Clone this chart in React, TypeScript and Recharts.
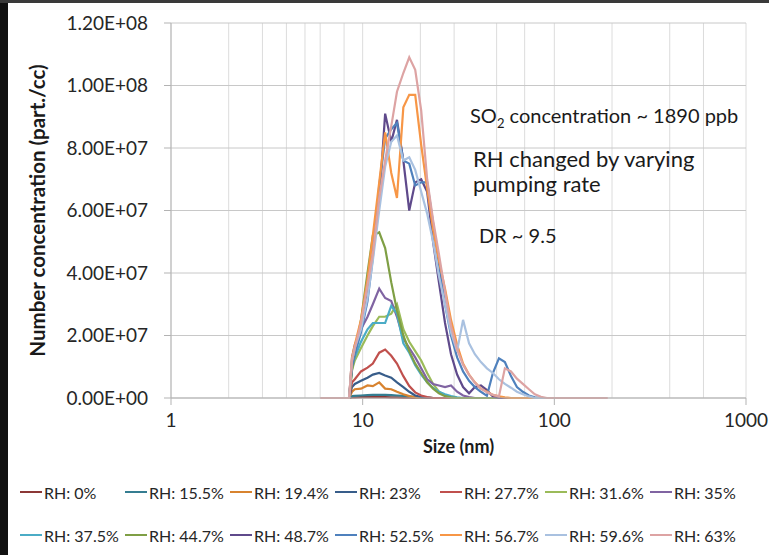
import { LineChart, Line, XAxis, YAxis, CartesianGrid } from 'recharts';

// particle diameters (nm), SMPS-like bins
const sizes = [
  6.0, 8.5, 8.8, 9.1, 9.8, 10.6, 11.3, 12.2, 13.1, 14.1, 15.1, 16.3, 17.5, 18.8, 20.2, 21.7, 23.3, 25.0,
  26.9, 28.9, 31.1, 33.4, 35.9, 38.5, 41.4, 44.5, 47.8, 51.4, 55.2, 59.4, 63.8, 68.5, 73.7, 79.1, 85.1,
  91.4, 100, 190,
];

// number concentration, in units of 1e7 part./cc
const rh0 = [null, 0, 0.02, 0.02, 0.03, 0.03, 0.03, 0.03, 0.03, 0.02, 0.02, 0.01, 0.01, 0, 0, 0, 0, 0, 0, 0, 0, 0, 0, 0, 0, 0, 0, 0, 0, 0, 0, 0, 0, 0, 0, 0, 0, null];
const rh155 = [null, 0, 0.06, 0.07, 0.08, 0.09, 0.1, 0.1, 0.1, 0.09, 0.08, 0.07, 0.05, 0.03, 0.02, 0.01, 0, 0, 0, 0, 0, 0, 0, 0, 0, 0, 0, 0, 0, 0, 0, 0, 0, 0, 0, 0, 0, null];
const rh194 = [null, 0, 0.2, 0.28, 0.3, 0.4, 0.38, 0.5, 0.3, 0.28, 0.2, 0.12, 0.06, 0.02, 0.01, 0, 0, 0, 0, 0, 0, 0, 0, 0, 0, 0, 0, 0, 0, 0, 0, 0, 0, 0, 0, 0, 0, null];
const rh23 = [null, 0, 0.35, 0.45, 0.55, 0.65, 0.75, 0.8, 0.72, 0.65, 0.5, 0.35, 0.2, 0.08, 0.03, 0.01, 0, 0, 0, 0, 0, 0, 0, 0, 0, 0, 0, 0, 0, 0, 0, 0, 0, 0, 0, 0, 0, null];
const rh277 = [null, 0, 0.5, 0.6, 0.85, 0.97, 1.1, 1.45, 1.55, 1.35, 1.1, 0.7, 0.38, 0.18, 0.08, 0.03, 0, 0, 0, 0, 0, 0, 0, 0, 0, 0, 0, 0, 0, 0, 0, 0, 0, 0, 0, 0, 0, null];
const rh316 = [null, 0, 0.9, 1.2, 1.6, 2.0, 2.3, 2.6, 2.6, 2.7, 3.0, 2.2, 1.8, 1.5, 1.2, 0.8, 0.45, 0.2, 0.08, 0.02, 0, 0, 0, 0, 0, 0, 0, 0, 0, 0, 0, 0, 0, 0, 0, 0, 0, null];
const rh35 = [null, 0, 1.3, 1.7, 2.2, 2.6, 3.0, 3.5, 3.2, 3.1, 2.6, 1.9, 1.6, 1.3, 0.95, 0.6, 0.45, 0.4, 0.35, 0.4, 0.2, 0.08, 0.03, 0, 0, 0, 0, 0, 0, 0, 0, 0, 0, 0, 0, 0, 0, null];
const rh375 = [null, 0, 1.0, 1.3, 1.8, 2.2, 2.4, 2.4, 2.4, 2.95, 2.7, 1.75, 1.45, 1.05, 0.75, 0.5, 0.32, 0.2, 0.12, 0.06, 0.02, 0, 0, 0, 0, 0, 0, 0, 0, 0, 0, 0, 0, 0, 0, 0, 0, null];
const rh447 = [null, 0, 0.9, 1.4, 2.5, 4.0, 5.2, 5.3, 4.8, 3.7, 2.8, 2.0, 1.5, 1.1, 0.8, 0.5, 0.3, 0.15, 0.06, 0.02, 0, 0, 0, 0, 0, 0, 0, 0, 0, 0, 0, 0, 0, 0, 0, 0, 0, null];
const rh487 = [null, 0, 1.1, 1.5, 2.3, 3.3, 4.6, 6.3, 9.1, 8.2, 8.9, 7.6, 6.0, 6.9, 7.0, 6.6, 5.0, 3.7, 2.4, 1.4, 0.75, 0.35, 0.15, 0.35, 0.4, 0.25, 0.05, 0, 0, 0, 0, 0, 0, 0, 0, 0, 0, null];
const rh525 = [null, 0, 1.0, 1.4, 2.1, 3.1, 4.5, 6.8, 8.3, 8.6, 8.8, 7.6, 7.5, 6.8, 6.9, 6.9, 5.6, 4.3, 3.0, 2.0, 1.3, 0.85, 0.55, 0.35, 0.2, 0.07, 0.8, 1.27, 1.15, 0.7, 0.35, 0.2, 0.08, 0.02, 0, 0, 0, null];
const rh567 = [null, 0, 1.3, 1.7, 2.5, 3.8, 5.2, 6.9, 8.5, 7.2, 6.4, 9.3, 9.7, 9.7, 8.1, 6.7, 5.4, 4.4, 3.5, 2.5, 1.7, 1.1, 0.75, 0.5, 0.3, 0.2, 0.1, 0.05, 0.02, 0, 0, 0, 0, 0, 0, 0, 0, null];
const rh596 = [null, 0, 1.2, 1.6, 2.2, 3.2, 4.4, 6.0, 7.4, 8.2, 8.4, 7.6, 7.7, 7.3, 6.6, 5.9, 5.0, 3.9, 3.0, 2.1, 1.5, 2.5, 1.75, 1.4, 1.15, 0.95, 0.8, 0.6, 0.45, 0.33, 0.2, 0.12, 0.05, 0, 0, 0, 0, null];
const rh63 = [0, 0, 1.2, 1.6, 2.4, 3.6, 4.6, 6.4, 7.6, 8.7, 9.8, 10.4, 10.9, 10.5, 9.2, 7.0, 5.7, 4.6, 3.4, 2.3, 1.55, 1.06, 0.74, 0.49, 0.3, 0.18, 0.1, 0.05, 0.95, 0.85, 0.62, 0.45, 0.28, 0.12, 0.04, 0, 0, 0];

const xTicks = [1, 10, 100, 1000];
const yTicks = [0, 2e7, 4e7, 6e7, 8e7, 1e8, 1.2e8];
const logGrid = [
  1, 2, 3, 4, 5, 6, 7, 8, 9, 10, 20, 30, 40, 50, 60, 70, 80, 90, 100, 200, 300, 400, 500, 600, 700, 800,
  900, 1000,
];

const series = [
  { key: 'rh0', name: 'RH: 0%', color: '#8c3836', values: rh0 },
  { key: 'rh155', name: 'RH: 15.5%', color: '#357d91', values: rh155 },
  { key: 'rh194', name: 'RH: 19.4%', color: '#d8832f', values: rh194 },
  { key: 'rh23', name: 'RH: 23%', color: '#385d8a', values: rh23 },
  { key: 'rh277', name: 'RH: 27.7%', color: '#c0504d', values: rh277 },
  { key: 'rh316', name: 'RH: 31.6%', color: '#9bbb59', values: rh316 },
  { key: 'rh35', name: 'RH: 35%', color: '#8064a2', values: rh35 },
  { key: 'rh375', name: 'RH: 37.5%', color: '#4bacc6', values: rh375 },
  { key: 'rh447', name: 'RH: 44.7%', color: '#7f9f45', values: rh447 },
  { key: 'rh487', name: 'RH: 48.7%', color: '#5f4a8b', values: rh487 },
  { key: 'rh525', name: 'RH: 52.5%', color: '#4f81bd', values: rh525 },
  { key: 'rh567', name: 'RH: 56.7%', color: '#f79646', values: rh567 },
  { key: 'rh596', name: 'RH: 59.6%', color: '#a9c1e0', values: rh596 },
  { key: 'rh63', name: 'RH: 63%', color: '#dda3a3', values: rh63 },
];

const data = sizes.map((size, i) => {
  const row: Record<string, number | null> = { size };
  series.forEach(s => {
    const v = s.values[i];
    row[s.key] = v === null ? null : v * 1e7;
  });
  return row;
});

function sci(v: number) {
  if (v === 0) return '0.00E+00';
  const e = Math.floor(Math.log10(v) + 1e-9);
  const m = v / Math.pow(10, e);
  return `${m.toFixed(2)}E+${String(e).padStart(2, '0')}`;
}

const font = 'Lato, "Open Sans", sans-serif';
const note = { position: 'absolute' as const, left: 470, fontFamily: font, fontSize: 20, color: '#1a1a1a', whiteSpace: 'nowrap' as const };

export default function App() {
  return (
    <div style={{ position: 'absolute', left: 0, top: 0, width: 769, height: 555, background: '#fff', overflow: 'hidden' }}>
      <div style={{ position: 'absolute', left: 0, top: 0, width: 8, height: 555, background: '#111' }} />
      <div style={{ position: 'absolute', left: 0, top: 0, width: 769, height: 3, background: '#3a3a3a' }} />

      <LineChart width={769} height={460} data={data} margin={{ top: 23, right: 23, bottom: 2, left: 0 }}>
        <CartesianGrid horizontal={false} verticalValues={logGrid} stroke="#dcdcdc" />
        <CartesianGrid vertical={false} stroke="#c8c8c8" />
        <XAxis
          dataKey="size"
          type="number"
          scale="log"
          domain={[1, 1000]}
          ticks={xTicks}
          allowDataOverflow
          height={60}
          tickSize={7}
          tickMargin={9}
          stroke="#b3b3b3"
          tick={{ fill: '#262626', fontSize: 19, fontFamily: font }}
          label={{
            value: 'Size (nm)',
            position: 'insideBottom',
            offset: 5,
            style: { fontFamily: font, fontSize: 18, fontWeight: 700, fill: '#1a1a1a' },
          }}
        />
        <YAxis
          type="number"
          domain={[0, 1.2e8]}
          ticks={yTicks}
          width={171}
          tickSize={7}
          tickMargin={16}
          tickFormatter={sci}
          stroke="#b3b3b3"
          tick={{ fill: '#262626', fontSize: 19, fontFamily: font }}
          label={{
            value: 'Number concentration (part./cc)',
            angle: -90,
            position: 'insideLeft',
            offset: 38,
            style: { textAnchor: 'middle', fontFamily: font, fontSize: 20.5, fontWeight: 700, fill: '#1a1a1a' },
          }}
        />
        {series.map(s => (
          <Line
            key={s.key}
            dataKey={s.key}
            name={s.name}
            type="linear"
            stroke={s.color}
            strokeWidth={2.2}
            dot={false}
            activeDot={false}
            isAnimationActive={false}
          />
        ))}
      </LineChart>

      <div style={{ ...note, top: 103 }}>
        SO<sub style={{ fontSize: 13 }}>2</sub> concentration ~ 1890 ppb
      </div>
      <div style={{ ...note, left: 473, top: 145, fontSize: 22 }}>RH changed by varying</div>
      <div style={{ ...note, left: 473, top: 170, fontSize: 22 }}>pumping rate</div>
      <div style={{ ...note, left: 479, top: 223 }}>DR ~ 9.5</div>

      {[series.slice(0, 7), series.slice(7)].map((row, r) => (
        <div key={r} style={{ position: 'absolute', left: 20, top: r === 0 ? 481 : 524, height: 22 }}>
          {row.map((s, c) => (
            <div
              key={s.key}
              style={{
                position: 'absolute',
                left: c * 105,
                top: 0,
                display: 'flex',
                alignItems: 'center',
                height: 22,
                whiteSpace: 'nowrap',
                fontFamily: font,
                fontSize: 16,
                color: '#262626',
              }}
            >
              <span style={{ display: 'inline-block', width: 22, height: 2.5, background: s.color, marginRight: 2 }} />
              {s.name}
            </div>
          ))}
        </div>
      ))}
    </div>
  );
}
